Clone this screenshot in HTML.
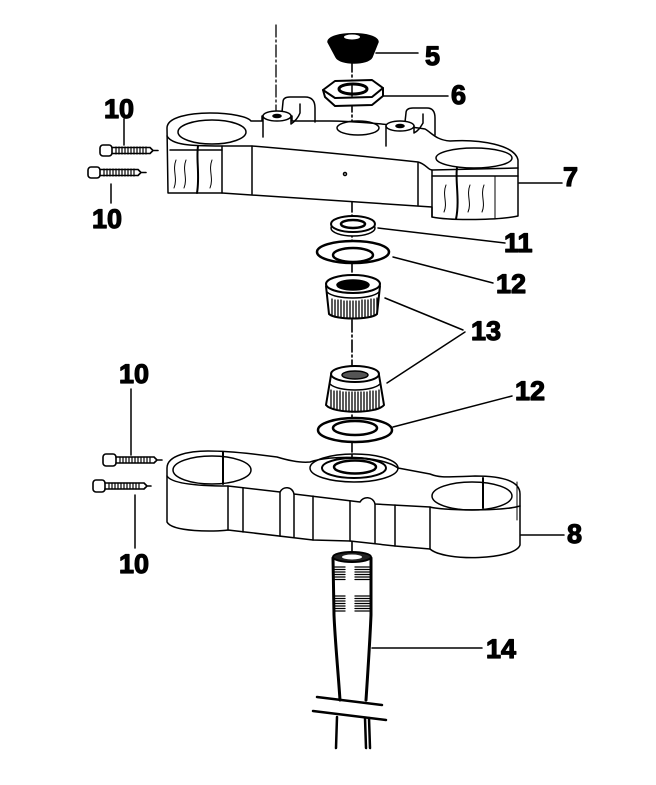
<!DOCTYPE html>
<html><head><meta charset="utf-8">
<style>
html,body{margin:0;padding:0;background:#fff;}
svg{display:block;}
text{font-family:"Liberation Sans",Arial,sans-serif;font-weight:bold;font-size:27px;fill:#000;stroke:#000;stroke-width:1.2;stroke-linejoin:round;}
</style></head>
<body>
<svg width="656" height="785" viewBox="0 0 656 785" xmlns="http://www.w3.org/2000/svg">
<g fill="none" stroke="#000" stroke-width="1.5" stroke-linecap="round" stroke-linejoin="round">

<!-- axes -->
<line x1="276" y1="25" x2="276" y2="138" stroke-dasharray="12,3,2,3" stroke-width="1.3"/>
<line x1="352" y1="60" x2="352" y2="560" stroke-dasharray="12,3,2,3" stroke-width="1.6"/>

<!-- cap 5 -->
<path d="M328,42 C328,31 378,31 378,42 L372,57 C368,65 340,65 336,57 Z" fill="#000"/>
<ellipse cx="352" cy="37" rx="8" ry="2.5" fill="#fff" stroke="none"/>

<!-- nut 6 -->
<path d="M323,90 L325,97 L335,106 L372,105 L383,96 L383,88 Z" fill="#fff" stroke-width="2"/>
<path d="M323,90 L335,81 L372,80 L383,88 L372,97 L335,98 Z" fill="#fff" stroke-width="2"/>
<ellipse cx="353" cy="89" rx="14" ry="5" stroke-width="3"/>
<line x1="352" y1="85" x2="352" y2="96" stroke-width="1.5"/>

<!-- top clamp 7 -->
<path d="M167,128 C167,117 190,113 210,113 C232,113 248,117 251,121 L262,121 L262,116 L292,116 L292,121 L330,121 C350,121 400,125 425,129 C432,133 436,140 450,141 C480,139 515,145 518,160 L518,216 C500,220 452,221 432,217 L432,207 L222,193 L168,193 Z" fill="#fff"/>
<ellipse cx="212" cy="132" rx="34" ry="12"/>
<ellipse cx="358" cy="128" rx="21" ry="7"/>
<ellipse cx="474" cy="158" rx="38" ry="10"/>
<path d="M167,136 C172,145 190,146 222,146 L252,146 C300,150 380,158 418,162 C426,164 428,170 432,170 L518,168"/>
<path d="M170,150 L222,150"/>
<line x1="222" y1="146" x2="222" y2="193"/>
<line x1="252" y1="146" x2="252" y2="194"/>
<path d="M198,146 C196,160 200,175 197,193" stroke-width="2"/>
<path d="M186,160 C182,170 188,178 184,188" stroke-width="1"/>
<path d="M212,160 C208,170 214,178 210,188" stroke-width="1"/>
<path d="M176,160 C172,170 178,178 174,188" stroke-width="1"/>
<line x1="418" y1="163" x2="418" y2="205"/>
<line x1="432" y1="170" x2="432" y2="217"/>
<path d="M457,168 C455,180 460,200 456,219" stroke-width="2"/>
<path d="M446,185 C442,195 448,203 444,212" stroke-width="1"/>
<path d="M470,185 C466,195 472,203 468,212" stroke-width="1"/>
<path d="M484,185 C480,195 486,203 482,212" stroke-width="1"/>
<line x1="432" y1="176" x2="518" y2="176"/>
<line x1="495" y1="176" x2="495" y2="218" stroke-width="1"/>
<circle cx="345" cy="174" r="1.5"/>
<!-- posts -->
<path d="M282,112 L283,102 C283,98 286,97 290,97 L305,97 C311,97 315,100 315,108 L315,122"/>
<path d="M263,116 L263,137 M291,116 L291,124 C294,122 298,118 300,113 L300,104"/>
<ellipse cx="277" cy="116" rx="14" ry="5" fill="#fff"/>
<ellipse cx="277" cy="116" rx="4" ry="1.5" fill="#000"/>
<path d="M405,122 L406,113 C406,109 409,108 413,108 L427,108 C433,108 435,112 435,118 L435,135"/>
<path d="M386,126 L386,146 M414,126 L414,133 C418,131 420,128 423,123 L423,114"/>
<ellipse cx="400" cy="126" rx="14" ry="5" fill="#fff"/>
<ellipse cx="400" cy="126" rx="4" ry="1.5" fill="#000"/>

<!-- ring 11 -->
<ellipse cx="353" cy="228" rx="22" ry="8" fill="#fff"/>
<ellipse cx="353" cy="224" rx="22" ry="8" fill="#fff" stroke-width="2"/>
<ellipse cx="353" cy="224" rx="12" ry="4" stroke-width="2.5"/>

<!-- washer 12 upper -->
<ellipse cx="353" cy="252" rx="36" ry="11" fill="#fff" stroke-width="2.5"/>
<ellipse cx="353" cy="255" rx="20" ry="7" stroke-width="2.5"/>

<!-- bearing upper -->
<path d="M326,286 L329,314 C335,320 371,320 377,314 L380,286" fill="#fff" stroke-width="2"/>
<ellipse cx="353" cy="284" rx="27" ry="9" fill="#fff" stroke-width="2"/>
<ellipse cx="353" cy="285" rx="16" ry="5" fill="#000"/>
<path d="M327,292 C335,300 371,300 379,292" stroke-width="1.5"/>
<path d="M332,299 V315 M335,300 V316 M338,300 V316 M341,300 V317 M344,301 V317 M347,301 V318 M350,301 V318 M353,301 V318 M356,301 V318 M359,301 V318 M362,300 V317 M365,300 V317 M368,300 V316 M371,299 V316 M374,299 V315 M377,298 V314" stroke-width="1.3"/>

<!-- bearing lower -->
<path d="M331,375 L326,405 C333,414 377,414 384,405 L379,375" fill="#fff" stroke-width="2"/>
<ellipse cx="355" cy="374" rx="24" ry="8" fill="#fff" stroke-width="2"/>
<ellipse cx="355" cy="375" rx="13" ry="4" fill="#555"/>
<path d="M330,384 C338,392 372,392 380,384" stroke-width="1.5"/>
<path d="M331,390 V407 M334,391 V408 M337,391 V409 M340,391 V410 M343,392 V411 M346,392 V411 M349,392 V412 M352,392 V412 M355,392 V412 M358,392 V412 M361,392 V412 M364,392 V411 M367,392 V411 M370,391 V410 M373,391 V409 M376,391 V408 M379,390 V407" stroke-width="1.3"/>

<!-- washer 12 lower -->
<ellipse cx="355" cy="430" rx="37" ry="12" fill="#fff" stroke-width="2.5"/>
<ellipse cx="355" cy="428" rx="22" ry="7" stroke-width="2.5"/>

<!-- bottom clamp 8 -->
<path d="M167,468 C167,455 190,451 208,451 C222,451 235,452 253,454 L277,457 C290,461 300,463 310,462 C330,455 380,455 398,468 L430,474 C440,478 445,477 475,476 C505,476 520,482 520,494 L520,545 C515,560 445,562 430,549 L395,546 L350,541 L313,540 L245,532 L228,530 C215,532 172,532 167,522 Z" fill="#fff"/>
<ellipse cx="212" cy="470" rx="39" ry="14"/>
<ellipse cx="472" cy="496" rx="40" ry="14"/>
<ellipse cx="354" cy="468" rx="44" ry="14"/>
<ellipse cx="354" cy="468" rx="32" ry="10" stroke-width="2"/>
<ellipse cx="355" cy="467" rx="21" ry="6.5" stroke-width="2.5"/>
<path d="M167,476 C172,484 200,486 228,486 L280,492 C283,486 292,486 294,494 L360,502 C363,496 373,496 375,504 L430,507 C438,510 500,512 520,506"/>
<line x1="228" y1="486" x2="228" y2="530"/>
<line x1="243" y1="488" x2="243" y2="532"/>
<line x1="280" y1="492" x2="280" y2="536"/>
<line x1="294" y1="494" x2="294" y2="537"/>
<line x1="313" y1="496" x2="313" y2="540"/>
<line x1="350" y1="501" x2="350" y2="541"/>
<line x1="375" y1="504" x2="375" y2="543"/>
<line x1="395" y1="505" x2="395" y2="546"/>
<line x1="430" y1="507" x2="430" y2="549"/>
<path d="M223,452 L223,484" stroke-width="2"/>
<path d="M483,478 L483,508" stroke-width="2"/>
<path d="M517,482 L517,520" stroke-width="1"/>

<!-- stem 14 -->
<path d="M333,558 L334,615 C335,640 338,670 340,700" stroke-width="3"/>
<path d="M371,558 L371,615 C370,640 368,670 366,700" stroke-width="3"/>
<ellipse cx="352" cy="557" rx="19" ry="5" fill="#222" stroke-width="2"/>
<ellipse cx="352" cy="557" rx="10" ry="2.5" fill="#fff" stroke="none"/>
<path d="M335,567 H345 M335,569.5 H345 M335,572 H345 M335,574.5 H345 M335,577 H345 M335,579.5 H345 M355,567 H369 M355,569.5 H369 M355,572 H369 M355,574.5 H369 M355,577 H369 M355,579.5 H369 M335,596 H345 M335,598.5 H345 M335,601 H345 M335,603.5 H345 M335,606 H345 M335,608.5 H345 M335,611 H345 M355,596 H369 M355,598.5 H369 M355,601 H369 M355,603.5 H369 M355,606 H369 M355,608.5 H369 M355,611 H369" stroke-width="1.3"/>
<line x1="317" y1="697" x2="382" y2="705" stroke-width="2.5"/>
<line x1="313" y1="711" x2="386" y2="720" stroke-width="2.5"/>
<path d="M337,717 L336,748 M365,718 L366,748 M369,718 L370,748" stroke-width="2.5"/>

<!-- bolts -->
<g stroke-width="1.6">
<rect x="100" y="145" width="12" height="11" rx="3" fill="#fff"/>
<path d="M112,147.5 H150 M112,153.5 H150 M150,147.5 L153,150.5 L150,153.5 M153,150.5 H158"/>
<path d="M116,147 V154 M119,147 V154 M122,147 V154 M125,147 V154 M128,147 V154 M131,147 V154 M134,147 V154 M137,147 V154 M140,147 V154 M143,147 V154 M146,147 V154" stroke-width="1.2"/>
<rect x="88" y="167" width="12" height="11" rx="3" fill="#fff"/>
<path d="M100,169.5 H138 M100,175.5 H138 M138,169.5 L141,172.5 L138,175.5 M141,172.5 H146"/>
<path d="M104,169 V176 M107,169 V176 M110,169 V176 M113,169 V176 M116,169 V176 M119,169 V176 M122,169 V176 M125,169 V176 M128,169 V176 M131,169 V176 M134,169 V176" stroke-width="1.2"/>
<rect x="103" y="454" width="13" height="12" rx="3" fill="#fff"/>
<path d="M116,457 H154 M116,463 H154 M154,457 L157,460 L154,463 M157,460 H162"/>
<path d="M120,457 V463 M123,457 V463 M126,457 V463 M129,457 V463 M132,457 V463 M135,457 V463 M138,457 V463 M141,457 V463 M144,457 V463 M147,457 V463 M150,457 V463" stroke-width="1.2"/>
<rect x="93" y="480" width="12" height="12" rx="3" fill="#fff"/>
<path d="M105,483 H144 M105,489 H144 M144,483 L147,486 L144,489 M147,486 H151"/>
<path d="M109,483 V489 M112,483 V489 M115,483 V489 M118,483 V489 M121,483 V489 M124,483 V489 M127,483 V489 M130,483 V489 M133,483 V489 M136,483 V489 M139,483 V489" stroke-width="1.2"/>
</g>

<!-- leader lines -->
<g stroke-width="1.5">
<line x1="376" y1="53" x2="418" y2="53"/>
<line x1="384" y1="96" x2="448" y2="96"/>
<line x1="519" y1="183" x2="562" y2="183"/>
<line x1="378" y1="228" x2="505" y2="243"/>
<line x1="393" y1="257" x2="493" y2="283"/>
<line x1="385" y1="298" x2="463" y2="330"/>
<line x1="387" y1="383" x2="465" y2="332"/>
<line x1="393" y1="427" x2="512" y2="396"/>
<line x1="521" y1="535" x2="564" y2="535"/>
<line x1="372" y1="648" x2="482" y2="648"/>
<line x1="124" y1="119" x2="124" y2="145"/>
<line x1="111" y1="184" x2="111" y2="203"/>
<line x1="131" y1="389" x2="131" y2="455"/>
<line x1="135" y1="495" x2="135" y2="548"/>
</g>
</g>

<!-- labels -->
<text x="425" y="65">5</text>
<text x="451" y="104">6</text>
<text x="563" y="186">7</text>
<text x="504" y="252">11</text>
<text x="496" y="293">12</text>
<text x="471" y="340">13</text>
<text x="515" y="400">12</text>
<text x="567" y="543">8</text>
<text x="486" y="658">14</text>
<text x="104" y="118">10</text>
<text x="92" y="228">10</text>
<text x="119" y="383">10</text>
<text x="119" y="573">10</text>
</svg>
</body></html>
